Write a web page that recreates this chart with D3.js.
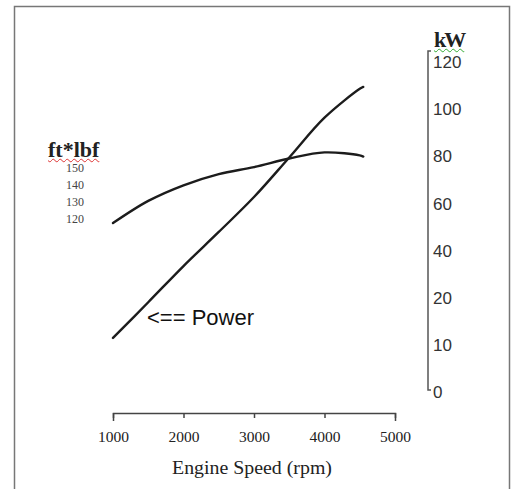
<!DOCTYPE html>
<html>
<head>
<meta charset="utf-8">
<script src="https://cdn.jsdelivr.net/npm/d3@7"></script>
<style>
  body { margin: 0; background: #fff; }
  #wrap { position: relative; width: 512px; height: 489px; }
  svg { display: block; }
  .note {
    position: absolute;
    line-height: 1;
    font-family: 'Liberation Serif';
    font-weight: bold;
    font-size: 22px;
    color: #222;
    white-space: nowrap;
    text-decoration-line: underline;
    text-decoration-style: wavy;
    text-decoration-thickness: 1px;
  }
</style>
</head>
<body>
<div id="wrap"><svg id="chart" width="512" height="489"></svg></div>
<script>
// engine speed samples (rpm)
const rpm = [1000, 1500, 2000, 2500, 3000, 3500, 4000, 4500, 4550];
// power in kW
const powerKW = [11.5, 19.1, 33.6, 48.1, 62.9, 79.4, 96.3, 108.6, 109.4];
// torque in ft*lbf
const torque = [119.1, 128.6, 135.3, 140.1, 143.1, 146.8, 149.4, 148.1, 147.6];

const xTicks = [1000, 2000, 3000, 4000, 5000];
const kwTicks = [0, 10, 20, 40, 60, 80, 100, 120];
const torqueLabels = ["150", "140", "130", "120"];

const svg = d3.select("#chart");
const wrap = d3.select("#wrap");

// frame around the picture
svg.append("path")
    .attr("d", "M14.5,489V6.5H509.5V489")
    .attr("fill", "none")
    .attr("stroke", "#777")
    .attr("stroke-width", 1.5);

const x = d3.scaleLinear().domain([1000, 5000]).range([113, 395]);
// the kW axis is not evenly spaced, every label gets the same gap
const yKW = d3.scaleLinear()
    .domain(kwTicks)
    .range([392, 345, 298, 251, 204, 156, 109, 62]);
const yTq = d3.scaleLinear().domain([120, 150]).range([221, 151]);

// x axis
const xAxis = svg.append("g")
    .attr("transform", "translate(0,413)")
    .call(d3.axisBottom(x).tickValues(xTicks).tickSizeInner(5).tickSizeOuter(8).tickFormat(d3.format("d")));
xAxis.selectAll("path, line").attr("stroke", "#444").attr("stroke-width", 1.5);
xAxis.selectAll("text")
    .attr("dy", null)
    .attr("y", 29)
    .attr("fill", "#222")
    .style("font", "15.5px 'Liberation Serif'");

svg.append("text")
    .attr("x", 252)
    .attr("y", 474)
    .attr("text-anchor", "middle")
    .attr("textLength", 160)
    .attr("lengthAdjust", "spacingAndGlyphs")
    .attr("fill", "#222")
    .style("font", "18px 'Liberation Serif'")
    .text("Engine Speed (rpm)");

// kW axis on the right
const yAxis = svg.append("g")
    .attr("transform", "translate(428,0)")
    .call(d3.axisRight(yKW).tickValues(kwTicks).tickSize(0).tickPadding(5));
yAxis.select(".domain")
    .attr("d", "M3," + (yKW(0) - 2) + "H0V" + (yKW(120) - 11) + "H3")
    .attr("stroke", "#555")
    .attr("stroke-width", 1.5);
yAxis.selectAll("text")
    .attr("fill", "#333")
    .style("font", "17px 'Liberation Sans'");

// unit labels, html so the wavy underline shows
wrap.append("div")
    .attr("class", "note")
    .style("left", "434px")
    .style("top", "29px")
    .style("letter-spacing", "-2px")
    .style("text-decoration-color", "#3a3")
    .text("kW");

wrap.append("div")
    .attr("class", "note")
    .style("left", "48px")
    .style("top", "139px")
    .style("text-decoration-color", "#d33")
    .text("ft*lbf");

svg.append("g")
    .selectAll("text")
    .data(torqueLabels)
    .enter().append("text")
    .attr("x", 66)
    .attr("y", (d, i) => 172 + i * 17)
    .attr("fill", "#444")
    .style("font", "12px 'Liberation Serif'")
    .text(d => d);

// curves
const powerLine = d3.line()
    .x((d, i) => x(rpm[i]))
    .y(d => yKW(d))
    .curve(d3.curveCatmullRom.alpha(0.5));
const torqueLine = d3.line()
    .x((d, i) => x(rpm[i]))
    .y(d => yTq(d))
    .curve(d3.curveCatmullRom.alpha(0.5));

svg.append("path")
    .datum(powerKW)
    .attr("d", powerLine)
    .attr("fill", "none")
    .attr("stroke", "#1c1c1c")
    .attr("stroke-width", 2.4)
    .attr("stroke-linecap", "round");

svg.append("path")
    .datum(torque)
    .attr("d", torqueLine)
    .attr("fill", "none")
    .attr("stroke", "#1c1c1c")
    .attr("stroke-width", 2.4)
    .attr("stroke-linecap", "round");

svg.append("text")
    .attr("x", 147)
    .attr("y", 325)
    .attr("fill", "#111")
    .style("font", "22px 'Liberation Sans'")
    .text("<== Power");
</script>
</body>
</html>
